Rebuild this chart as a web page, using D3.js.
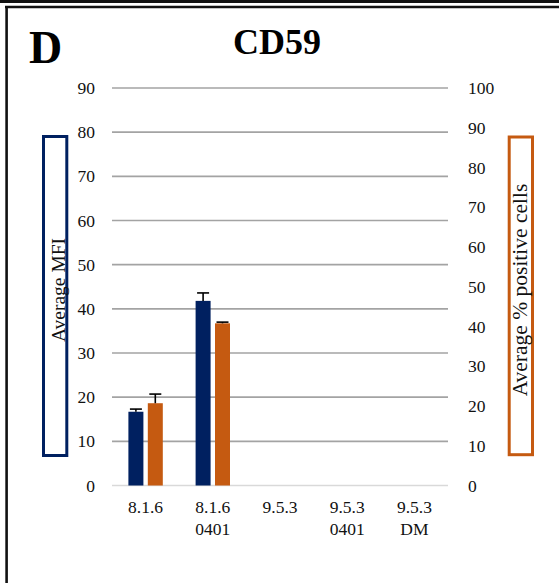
<!DOCTYPE html>
<html>
<head>
<meta charset="utf-8">
<script src="https://cdn.jsdelivr.net/npm/d3@7"></script>
<style>
  html, body { margin: 0; padding: 0; background: #fff; }
  svg { display: block; }
  svg text { font-family: "Liberation Serif", "Times New Roman", serif; }
</style>
</head>
<body>
<svg id="chart" width="559" height="583"></svg>
<script>
// Cell lines on the x axis (second line of each label after the newline)
const categories = ["8.1.6", "8.1.6\n0401", "9.5.3", "9.5.3\n0401", "9.5.3\nDM"];
// Average MFI (left axis) with error
const mfiValues = [16.7, 41.8, null, null, null];
const mfiErrors = [0.6, 1.8, null, null, null];
// Average % positive cells (right axis) with error
const pctValues = [20.7, 40.8, null, null, null];
const pctErrors = [2.3, 0.3, null, null, null];
const leftTicks = [0, 10, 20, 30, 40, 50, 60, 70, 80, 90];
const rightTicks = [0, 10, 20, 30, 40, 50, 60, 70, 80, 90, 100];

const svg = d3.select("#chart");
const W = 559, H = 583;
const plot = { left: 112, right: 448, top: 88, bottom: 485.5 };
const navy = "#002060", orange = "#c55a11";
const serif = '"Liberation Serif", "Times New Roman", serif';

svg.append("rect").attr("width", W).attr("height", H).attr("fill", "#fff");

// Panel frame: double rule on top, single rule on the left
svg.append("line").attr("x1", 0).attr("x2", W).attr("y1", 1.5).attr("y2", 1.5)
  .attr("stroke", "#111").attr("stroke-width", 3);
svg.append("line").attr("x1", 5).attr("x2", W).attr("y1", 7).attr("y2", 7)
  .attr("stroke", "#111").attr("stroke-width", 2.6);
svg.append("line").attr("x1", 6.6).attr("x2", 6.6).attr("y1", 6).attr("y2", H)
  .attr("stroke", "#111").attr("stroke-width", 2.6);

// Scales
const x = d3.scaleBand().domain(categories).range([plot.left, plot.right]).padding(0);
const series = ["mfi", "pct"];
const x1 = d3.scaleBand().domain(series).range([-17.2, 17.2]).paddingInner(0.227).paddingOuter(0);
const yL = d3.scaleLinear().domain([0, 90]).range([plot.bottom, plot.top]);
const yR = d3.scaleLinear().domain([0, 100]).range([plot.bottom, plot.top]);

// Gridlines
svg.append("g").selectAll("line").data(leftTicks.filter(d => d > 0)).join("line")
  .attr("x1", plot.left).attr("x2", plot.right)
  .attr("y1", d => yL(d)).attr("y2", d => yL(d))
  .attr("stroke", "#a3a3a3").attr("stroke-width", 1.6);
svg.append("line").attr("x1", plot.left).attr("x2", plot.right)
  .attr("y1", yL(0)).attr("y2", yL(0))
  .attr("stroke", "#d9d9d9").attr("stroke-width", 1.6);

// Left axis
const axL = svg.append("g").attr("transform", `translate(${plot.left},0)`)
  .call(d3.axisLeft(yL).tickValues(leftTicks).tickSize(0).tickPadding(17));
axL.attr("font-family", serif);
axL.select(".domain").remove();
axL.selectAll("text").attr("font-size", 17.5).attr("fill", "#111");

// Right axis
const axR = svg.append("g").attr("transform", `translate(${plot.right},0)`)
  .call(d3.axisRight(yR).tickValues(rightTicks).tickSize(0).tickPadding(20));
axR.attr("font-family", serif);
axR.select(".domain").remove();
axR.selectAll("text").attr("font-size", 17.5).attr("fill", "#111");

// Category labels (two lines)
const xl = svg.append("g").selectAll("text").data(categories).join("text")
  .attr("x", d => x(d) + x.bandwidth() / 2)
  .attr("y", 513)
  .attr("text-anchor", "middle")
  .attr("font-size", 17.5).attr("fill", "#111");
xl.each(function (d) {
  const parts = d.split("\n");
  d3.select(this).selectAll("tspan").data(parts).join("tspan")
    .attr("x", x(d) + x.bandwidth() / 2)
    .attr("dy", (p, i) => i === 0 ? 0 : 22)
    .text(p => p);
});

// Bars
const rows = categories.map((c, i) => ({
  cat: c,
  mfi: mfiValues[i], mfiErr: mfiErrors[i],
  pct: pctValues[i], pctErr: pctErrors[i]
}));
const barW = x1.bandwidth();
const bars = [];
rows.forEach(r => {
  if (r.mfi != null) bars.push({ cat: r.cat, s: "mfi", v: r.mfi, e: r.mfiErr, y: yL, c: navy });
  if (r.pct != null) bars.push({ cat: r.cat, s: "pct", v: r.pct, e: r.pctErr, y: yR, c: orange });
});

const gBars = svg.append("g");
gBars.selectAll("rect").data(bars).join("rect")
  .attr("x", d => x(d.cat) + x.bandwidth() / 2 + x1(d.s))
  .attr("width", barW)
  .attr("y", d => d.y(d.v))
  .attr("height", d => d.y(0) - d.y(d.v))
  .attr("fill", d => d.c);

// Error bars (upper whisker with cap)
const gErr = svg.append("g").attr("stroke", "#000").attr("stroke-width", 1.6);
bars.forEach(d => {
  const cx = x(d.cat) + x.bandwidth() / 2 + x1(d.s) + barW / 2;
  gErr.append("line").attr("x1", cx).attr("x2", cx)
    .attr("y1", d.y(d.v)).attr("y2", d.y(d.v + d.e));
  gErr.append("line").attr("x1", cx - 6).attr("x2", cx + 6)
    .attr("y1", d.y(d.v + d.e)).attr("y2", d.y(d.v + d.e));
});

// Axis titles in coloured boxes
svg.append("rect").attr("x", 43.5).attr("y", 136.5).attr("width", 23.3).attr("height", 319)
  .attr("fill", "none").attr("stroke", navy).attr("stroke-width", 3);
svg.append("text").attr("transform", "translate(64.5,290) rotate(-90)")
  .attr("text-anchor", "middle").attr("font-size", 19.5).attr("fill", "#111")
  .text("Average MFI");

svg.append("rect").attr("x", 509.2).attr("y", 137).attr("width", 23.3).attr("height", 317.7)
  .attr("fill", "none").attr("stroke", orange).attr("stroke-width", 3);
svg.append("text").attr("transform", "translate(526.5,290) rotate(-90)")
  .attr("text-anchor", "middle").attr("font-size", 21.5).attr("fill", "#111")
  .text("Average % positive cells");

// Panel letter and title
svg.append("text").attr("x", 29).attr("y", 63).attr("font-size", 46)
  .attr("font-weight", "bold").attr("fill", "#000").text("D");
svg.append("text").attr("x", 277).attr("y", 54).attr("text-anchor", "middle")
  .attr("font-size", 36).attr("font-weight", "bold").attr("fill", "#000").text("CD59");
</script>
</body>
</html>
